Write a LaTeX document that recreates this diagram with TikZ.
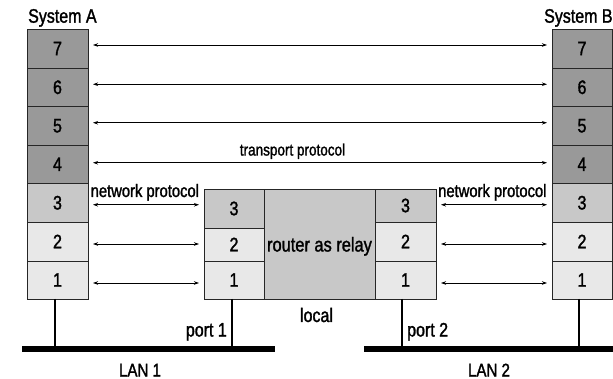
\documentclass[tikz,border=0pt]{standalone}
\usepackage{fontspec}
\setmainfont{Liberation Sans}[FakeStretch=0.82,FakeBold=1.5]
\usetikzlibrary{arrows.meta}
\definecolor{darklay}{RGB}{153,153,153}
\definecolor{midlay}{RGB}{200,200,200}
\definecolor{lightlay}{RGB}{232,232,232}
\newcommand{\fsz}[1]{\fontsize{#1pt}{#1pt}\selectfont}
\begin{document}
\begin{tikzpicture}[x=1pt,y=-1pt,
  lay/.style={draw=black!85,line width=0.8pt,inner sep=0pt,outer sep=0pt,anchor=north west,minimum width=#1,font=\fsz{19.5}},
  lay/.default=61pt,
  biarrow/.style={{Stealth[length=5pt,width=3.5pt]}-{Stealth[length=5pt,width=3.5pt]},line width=0.8pt,black},
  lanbar/.style={fill=black,inner sep=0pt,outer sep=0pt,minimum height=6pt},
  drop/.style={line width=2.6pt,black},
  lbl/.style={inner sep=0pt,font=\fsz{19.5}}]
\useasboundingbox (0,0) rectangle (613,379);
% System A
\node[lbl,anchor=base west] (SA) at (28,22.7) {System A};
\node[lay,fill=darklay,minimum height=39pt] (A7) at (27,29) {7};
\node[lay,fill=darklay,minimum height=38.5pt] (A6) at (27,68) {6};
\node[lay,fill=darklay,minimum height=38.5pt] (A5) at (27,106.5) {5};
\node[lay,fill=darklay,minimum height=38.5pt] (A4) at (27,145) {4};
\node[lay,fill=midlay,minimum height=38.5pt] (A3) at (27,183.5) {3};
\node[lay,fill=lightlay,minimum height=39pt] (A2) at (27,222) {2};
\node[lay,fill=lightlay,minimum height=38pt] (A1) at (27,261) {1};
% System B
\node[lbl,anchor=base east] (SB) at (612.8,22.7) {System B};
\node[lay=60pt,fill=darklay,minimum height=39pt] (B7) at (552,29) {7};
\node[lay=60pt,fill=darklay,minimum height=38.5pt] (B6) at (552,68) {6};
\node[lay=60pt,fill=darklay,minimum height=38.5pt] (B5) at (552,106.5) {5};
\node[lay=60pt,fill=darklay,minimum height=38.5pt] (B4) at (552,145) {4};
\node[lay=60pt,fill=midlay,minimum height=38.5pt] (B3) at (552,183.5) {3};
\node[lay=60pt,fill=lightlay,minimum height=39pt] (B2) at (552,222) {2};
\node[lay=60pt,fill=lightlay,minimum height=38pt] (B1) at (552,261) {1};
% Router
\node[lay=111pt,fill=midlay,minimum height=110pt] (RR) at (264,189) {};
\node[lbl,anchor=base,font=\fsz{20}] (RT) at (RR.center |- 0,251.5) {router as relay};
\node[lay=60pt,fill=midlay,minimum height=39pt] (L3) at (204,189) {3};
\node[lay=60pt,fill=lightlay,minimum height=33pt] (L2) at (204,228) {2};
\node[lay=60pt,fill=lightlay,minimum height=38pt] (L1) at (204,261) {1};
\node[lay,fill=midlay,minimum height=33pt] (R3) at (375,189) {3};
\node[lay,fill=lightlay,minimum height=39pt] (R2) at (375,222) {2};
\node[lay,fill=lightlay,minimum height=38pt] (R1) at (375,261) {1};
% long arrows
\draw[biarrow] ([xshift=5pt,yshift=3.5pt]A7.east) -- ([xshift=-5pt,yshift=3.5pt]B7.west);
\draw[biarrow] ([xshift=5pt,yshift=3pt]A6.east) -- ([xshift=-5pt,yshift=3pt]B6.west);
\draw[biarrow] ([xshift=5pt,yshift=3pt]A5.east) -- ([xshift=-5pt,yshift=3pt]B5.west);
\draw[biarrow] ([xshift=5pt,yshift=1.5pt]A4.east) -- ([xshift=-5pt,yshift=1.5pt]B4.west);
\node[inner sep=0pt,anchor=base,font=\fsz{16.5}] (TP) at (292.5,155.5) {transport protocol};
% short arrows left
\draw[biarrow] ([xshift=5pt,yshift=-2pt]A3.east) -- ([xshift=-5pt,yshift=-2pt]A3.east -| L3.west);
\draw[biarrow] ([xshift=5pt,yshift=-2.5pt]A2.east) -- ([xshift=-5pt,yshift=-2.5pt]A2.east -| L2.west);
\draw[biarrow] ([xshift=5pt,yshift=-3pt]A1.east) -- ([xshift=-5pt,yshift=-3pt]A1.east -| L1.west);
% short arrows right
\draw[biarrow] ([xshift=5pt,yshift=-2pt]A3.east -| R3.east) -- ([xshift=-5pt,yshift=-2pt]B3.west);
\draw[biarrow] ([xshift=5pt,yshift=-2.5pt]A2.east -| R2.east) -- ([xshift=-5pt,yshift=-2.5pt]B2.west);
\draw[biarrow] ([xshift=5pt,yshift=-3pt]A1.east -| R1.east) -- ([xshift=-5pt,yshift=-3pt]B1.west);
\node[inner sep=0pt,anchor=base west,font=\fsz{18}] (NPL) at (90.5,197) {network protocol};
\node[inner sep=0pt,anchor=base west,font=\fsz{18}] (NPR) at (438,197) {network protocol};
% LANs
\node[lanbar,minimum width=253pt] (LAN1) at (148.5,349) {};
\node[lanbar,minimum width=250pt] (LAN2) at (489,349) {};
\draw[drop] ([xshift=-2.5pt]A1.south) -- ([xshift=-2.5pt]A1.south |- LAN1.center);
\draw[drop] ([xshift=-2pt]L1.south) -- ([xshift=-2pt]L1.south |- LAN1.center);
\draw[drop] ([xshift=-3.5pt]R1.south) -- ([xshift=-3.5pt]R1.south |- LAN2.center);
\draw[drop] ([xshift=-3pt]B1.south) -- ([xshift=-3pt]B1.south |- LAN2.center);
\node[lbl,anchor=base east] (P1) at (227,336.5) {port 1};
\node[lbl,anchor=base west] (P2) at (407,336.5) {port 2};
\node[lbl,anchor=base] (LOC) at (316.5,322) {local};
\node[lbl,anchor=base,font=\fsz{18.4}] (N1) at (140,376.5) {LAN 1};
\node[lbl,anchor=base,font=\fsz{18.4}] (N2) at (489,376.5) {LAN 2};
\end{tikzpicture}
\end{document}
